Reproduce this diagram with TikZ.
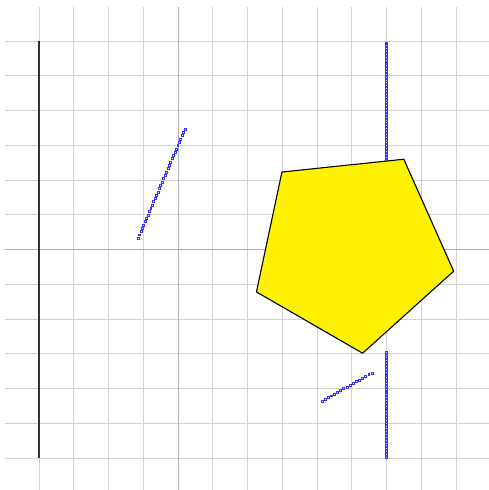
\documentclass[tikz,border=0pt]{standalone}
\usepackage{tikz}
\usetikzlibrary{calc,plotmarks}
\tikzset{
  gridline/.style={
    draw = gray!35,
    line width = 0.5pt
  },
  axisline/.style={
    draw = gray!60,
    line width = 0.5pt
  },
  wall/.style={
    draw = black!80,
    line width = 1.2pt
  },
  ray/.style={
    blue!80,
    only marks,
    mark = square,
    mark size = 0.8pt,
    mark options = {line width=0.4pt}
  },
  pent/.style={
    draw = black,
    fill = yellow,
    line width = 0.9pt,
    line join = round
  }
}
\begin{document}
\begin{tikzpicture}[x=1cm,y=1cm]
    \def\cx{5}
    \def\r{3}
    \useasboundingbox (-5.12,-6.92) rectangle (8.95,7.18);
    % grid and axes
    \draw[gridline] (-4.98,-6.99) grid (8.99,6.98);
    \draw[axisline] (-4.98,0) -- (8.99,0);
    \draw[axisline] (0,-6.99) -- (0,6.98);
    % wall
    \coordinate (wtop) at (-4,6);
    \coordinate (wbot) at (-4,-6);
    \draw[wall] (wtop) -- (wbot);
    % pentagon
    \draw[pent] ($(\cx,0)+(60:\r)$)
      \foreach \a in {132,204,276,348} { -- ($(\cx,0)+(\a:\r)$) } -- cycle;
    % rays
    \draw[ray] plot[samples=34, domain=0:1] ({-1.15+1.35*\x},{0.33+3.14*\x});
    \draw[ray] plot[samples=42, domain=0:1] ({6},{5.95-3.37*\x});
    \draw[ray] plot[samples=38, domain=0:1] ({6},{-2.95-3.02*\x});
    \draw[ray] plot[samples=17, domain=0:1] ({4.14+1.44*\x},{-4.36+0.81*\x});
\end{tikzpicture}
\end{document}
